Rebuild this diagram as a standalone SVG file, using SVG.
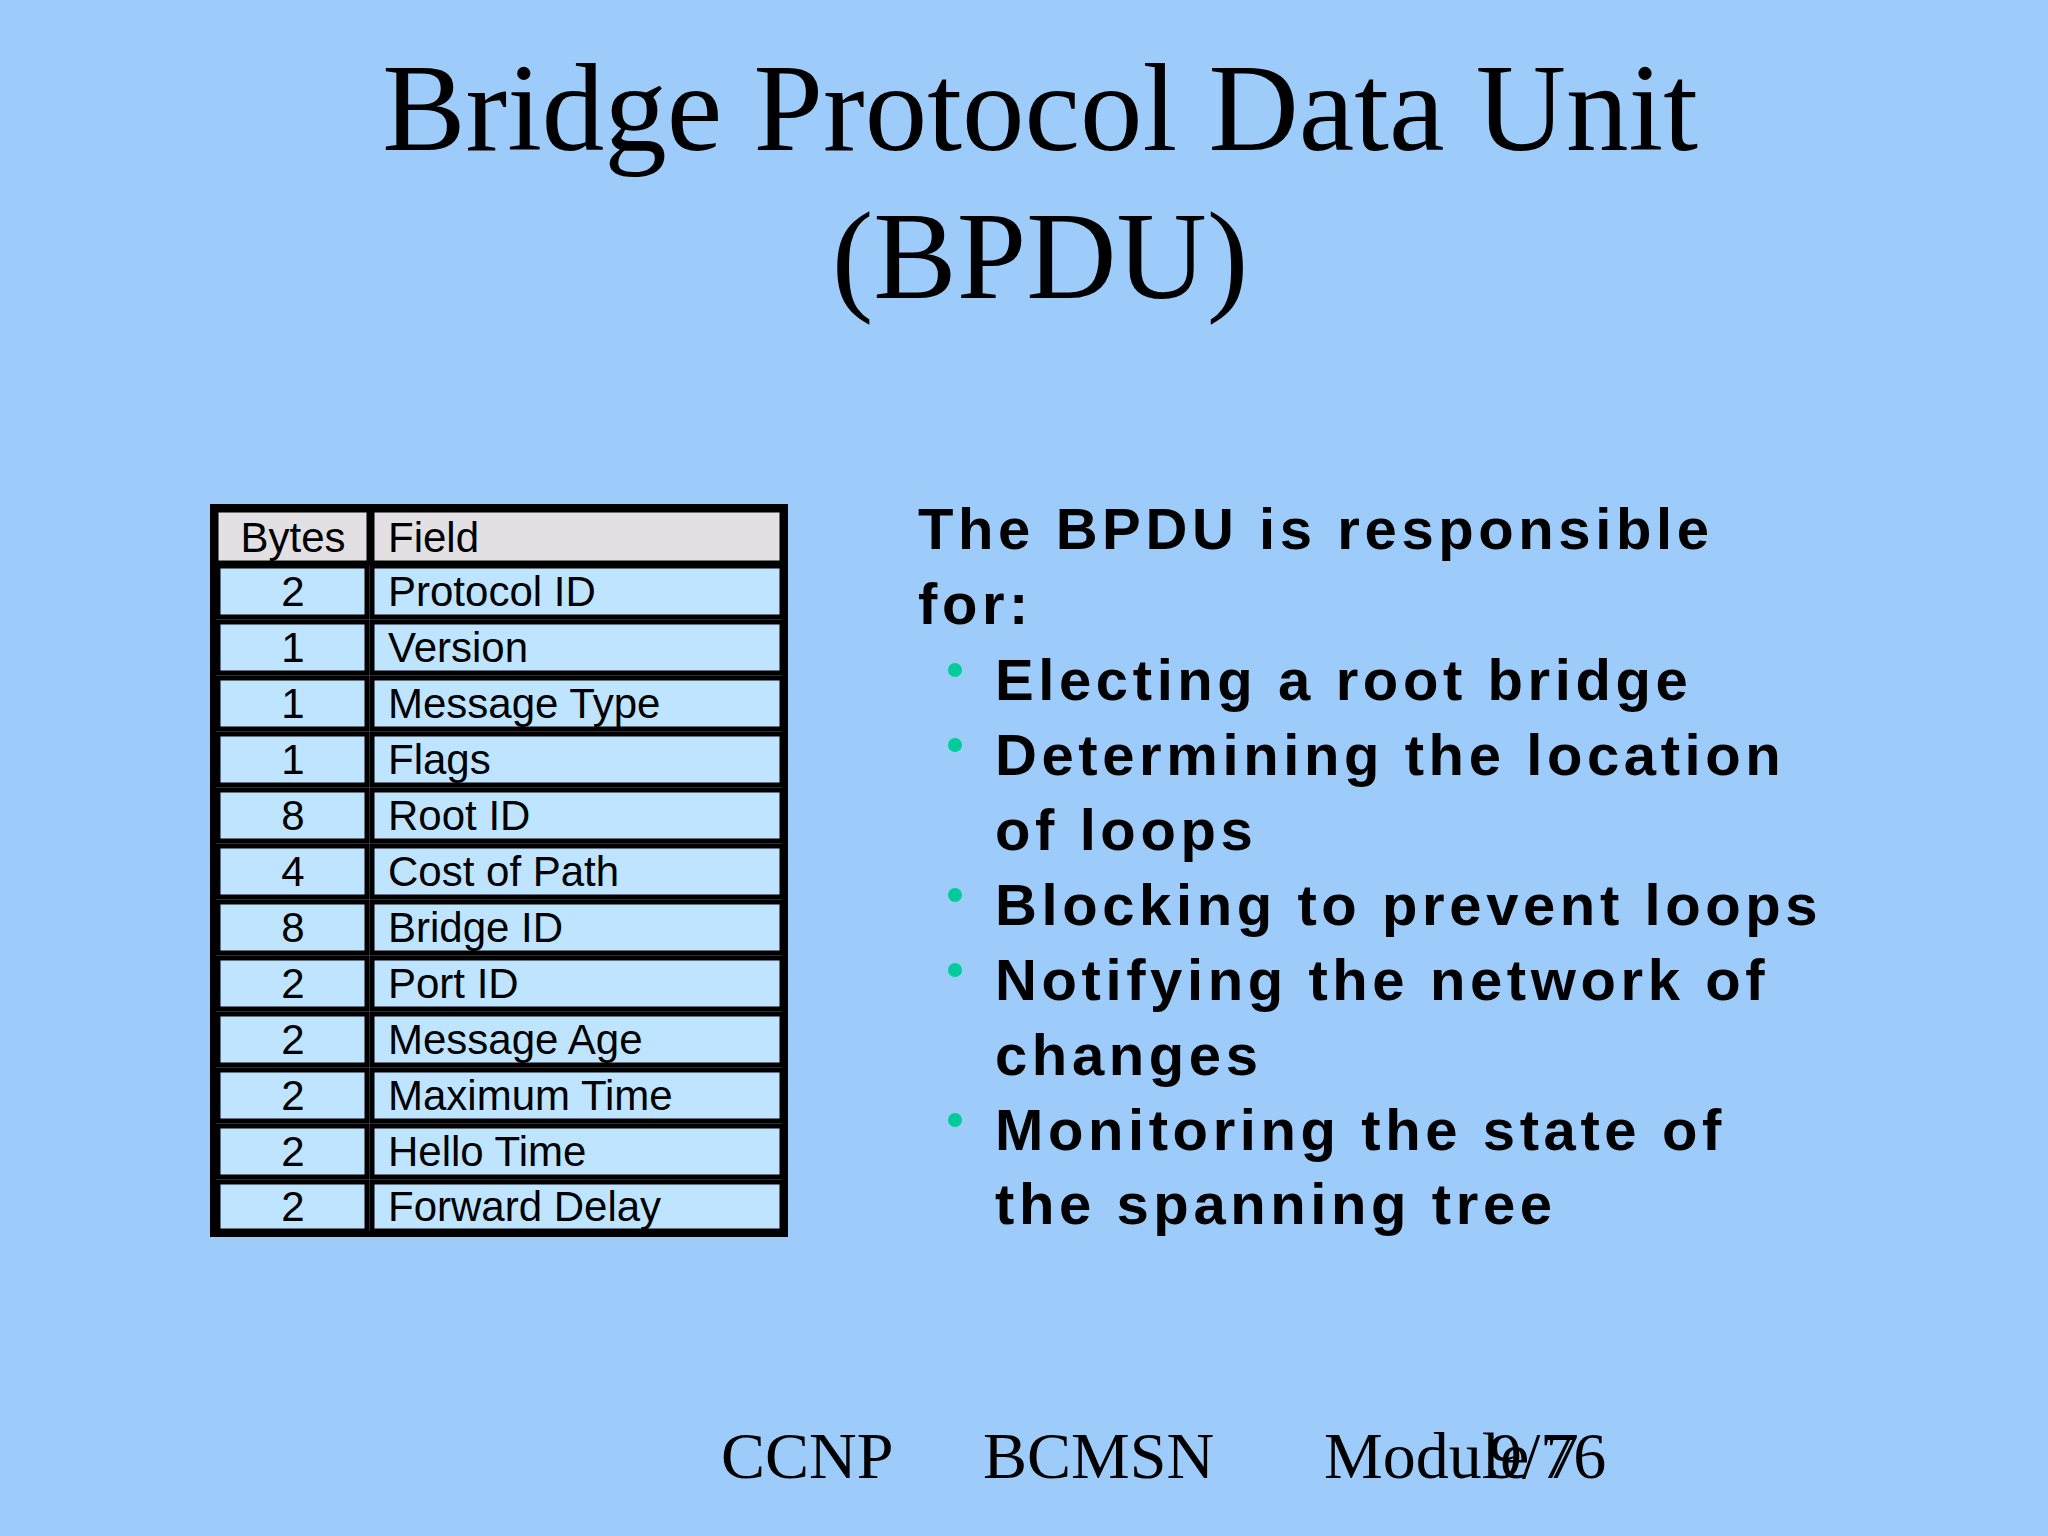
<svg xmlns="http://www.w3.org/2000/svg" width="2048" height="1536" viewBox="0 0 2048 1536">
<style>
.t{font-family:"Liberation Serif",serif;fill:#000}
.c{font-family:"Liberation Sans",Arial,sans-serif;font-size:42px;fill:#000}
.b{font-family:"Liberation Sans",Arial,sans-serif;font-size:58px;font-weight:bold;letter-spacing:4.6px;fill:#000}
.cell{fill:#bfe4ff;stroke:#000;stroke-width:5}
.hd{fill:#e2e0e2;stroke:#000;stroke-width:5}
.dot{fill:#00cc99}
</style>
<rect width="2048" height="1536" fill="#9dcbfa"/>
<g id="title">
<text class="t" x="1040" y="150" font-size="125" text-anchor="middle">Bridge Protocol Data Unit</text>
<text class="t" x="1040" y="298" font-size="125" text-anchor="middle">(BPDU)</text>
</g>
<g id="table">
<rect x="213" y="507" width="572" height="727" fill="none" stroke="#000" stroke-width="6"/>
<rect class="hd" x="216" y="510" width="153" height="53"/><rect class="hd" x="372" y="510" width="410" height="53"/>
<text class="c" x="293" y="552" text-anchor="middle">Bytes</text><text class="c" x="388" y="552">Field</text>
<g id="rows">
<rect class="cell" x="218" y="566" width="149" height="51"/><rect class="cell" x="372" y="566" width="410" height="51"/>
<text class="c" x="293" y="606" text-anchor="middle">2</text><text class="c" x="388" y="606">Protocol ID</text>
<rect class="cell" x="218" y="622" width="149" height="51"/><rect class="cell" x="372" y="622" width="410" height="51"/>
<text class="c" x="293" y="662" text-anchor="middle">1</text><text class="c" x="388" y="662">Version</text>
<rect class="cell" x="218" y="678" width="149" height="51"/><rect class="cell" x="372" y="678" width="410" height="51"/>
<text class="c" x="293" y="718" text-anchor="middle">1</text><text class="c" x="388" y="718">Message Type</text>
<rect class="cell" x="218" y="734" width="149" height="51"/><rect class="cell" x="372" y="734" width="410" height="51"/>
<text class="c" x="293" y="774" text-anchor="middle">1</text><text class="c" x="388" y="774">Flags</text>
<rect class="cell" x="218" y="790" width="149" height="51"/><rect class="cell" x="372" y="790" width="410" height="51"/>
<text class="c" x="293" y="830" text-anchor="middle">8</text><text class="c" x="388" y="830">Root ID</text>
<rect class="cell" x="218" y="846" width="149" height="51"/><rect class="cell" x="372" y="846" width="410" height="51"/>
<text class="c" x="293" y="886" text-anchor="middle">4</text><text class="c" x="388" y="886">Cost of Path</text>
<rect class="cell" x="218" y="902" width="149" height="51"/><rect class="cell" x="372" y="902" width="410" height="51"/>
<text class="c" x="293" y="942" text-anchor="middle">8</text><text class="c" x="388" y="942">Bridge ID</text>
<rect class="cell" x="218" y="958" width="149" height="51"/><rect class="cell" x="372" y="958" width="410" height="51"/>
<text class="c" x="293" y="998" text-anchor="middle">2</text><text class="c" x="388" y="998">Port ID</text>
<rect class="cell" x="218" y="1014" width="149" height="51"/><rect class="cell" x="372" y="1014" width="410" height="51"/>
<text class="c" x="293" y="1054" text-anchor="middle">2</text><text class="c" x="388" y="1054">Message Age</text>
<rect class="cell" x="218" y="1070" width="149" height="51"/><rect class="cell" x="372" y="1070" width="410" height="51"/>
<text class="c" x="293" y="1110" text-anchor="middle">2</text><text class="c" x="388" y="1110">Maximum Time</text>
<rect class="cell" x="218" y="1126" width="149" height="51"/><rect class="cell" x="372" y="1126" width="410" height="51"/>
<text class="c" x="293" y="1166" text-anchor="middle">2</text><text class="c" x="388" y="1166">Hello Time</text>
<rect class="cell" x="218" y="1182" width="149" height="49"/><rect class="cell" x="372" y="1182" width="410" height="49"/>
<text class="c" x="293" y="1221" text-anchor="middle">2</text><text class="c" x="388" y="1221">Forward Delay</text>
</g>
</g>
<g id="bullets">
<text class="b" x="918" y="549">The BPDU is responsible</text>
<text class="b" x="918" y="624">for:</text>
<circle class="dot" cx="955" cy="670" r="7"/><text class="b" x="995" y="700">Electing a root bridge</text>
<circle class="dot" cx="955" cy="745" r="7"/><text class="b" x="995" y="775">Determining the location</text>
<text class="b" x="995" y="850">of loops</text>
<circle class="dot" cx="955" cy="895" r="7"/><text class="b" x="995" y="925">Blocking to prevent loops</text>
<circle class="dot" cx="955" cy="970" r="7"/><text class="b" x="995" y="1000">Notifying the network of</text>
<text class="b" x="995" y="1075">changes</text>
<circle class="dot" cx="955" cy="1120" r="7"/><text class="b" x="995" y="1150">Monitoring the state of</text>
<text class="b" x="995" y="1224">the spanning tree</text>
</g>
<g id="footer">
<text class="t" x="721" y="1478" font-size="66">CCNP</text>
<text class="t" x="983" y="1478" font-size="66">BCMSN</text>
<text class="t" x="1324" y="1478" font-size="66">Module 7</text>
<text class="t" x="1489" y="1478" font-size="66">9/76</text>
</g>
</svg>
